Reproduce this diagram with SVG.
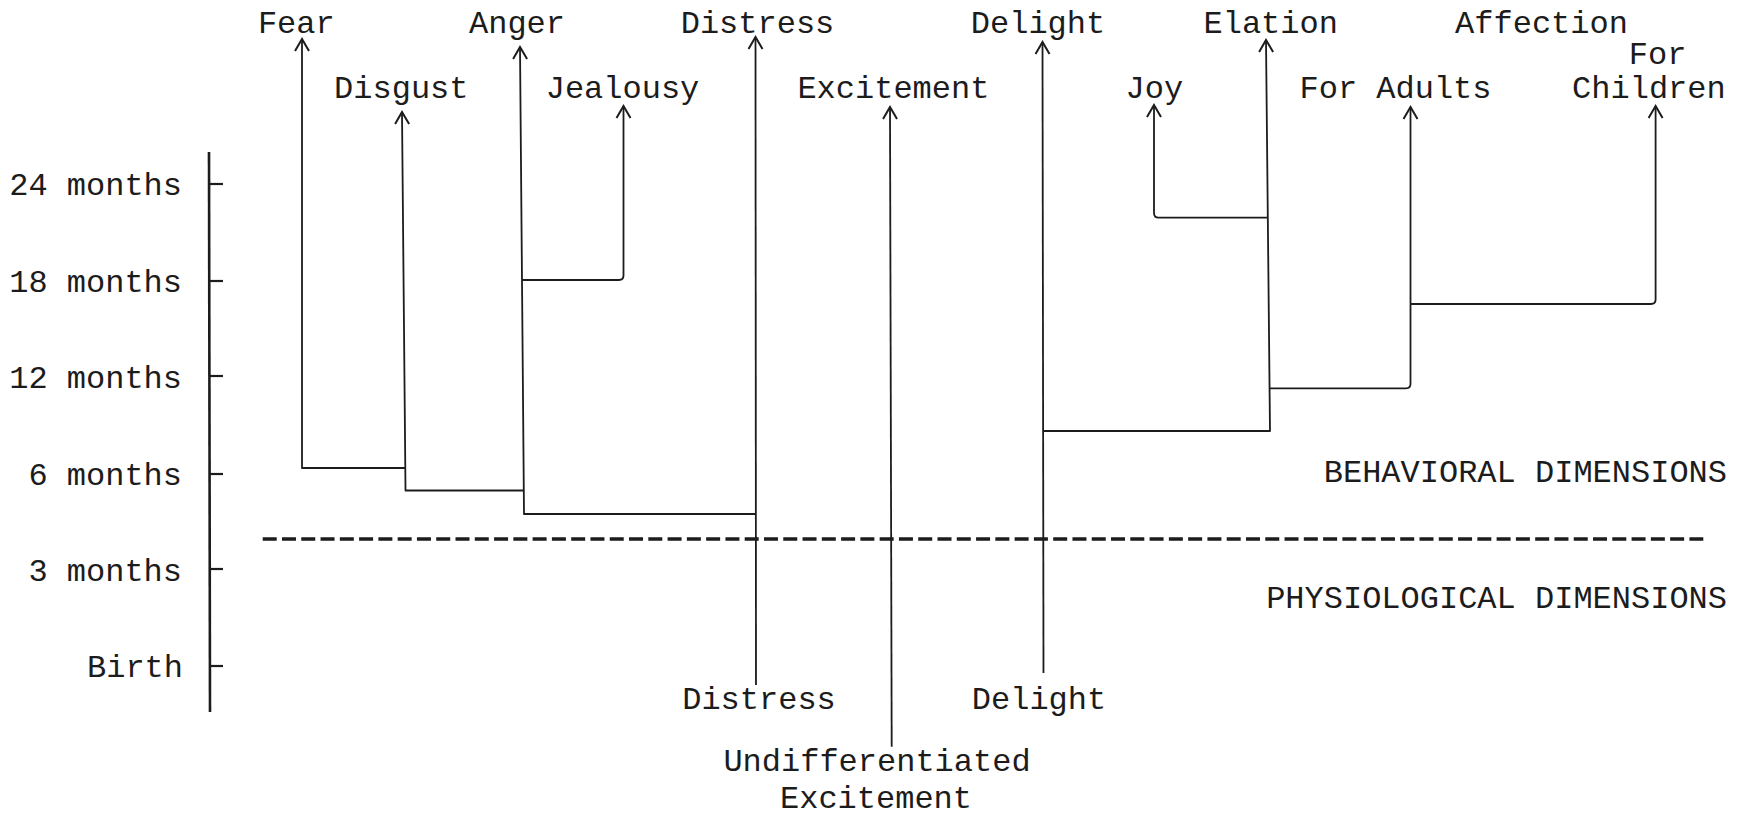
<svg xmlns="http://www.w3.org/2000/svg" width="1743" height="817" viewBox="0 0 1743 817">
  <style>
    text { font-family: "Liberation Mono", "DejaVu Sans Mono", monospace; font-size: 32px; fill: #1c1c1c; }
    .mid { text-anchor: middle; }
    .end { text-anchor: end; }
    .ln { fill: none; stroke: #1c1c1c; stroke-width: 1.8; stroke-linejoin: round; }
    .arr { marker-end: url(#head); }
    .axis { fill: none; stroke: #1c1c1c; stroke-width: 2.6; }
    .tick { stroke: #1c1c1c; stroke-width: 2.2; }
    .divider { stroke: #1c1c1c; stroke-width: 3.6; stroke-dasharray: 14 5.28; }
  </style>
  <defs>
    <marker id="head" markerUnits="userSpaceOnUse" viewBox="-14 -9 16 18" refX="0" refY="0" markerWidth="16" markerHeight="18" orient="auto">
      <path d="M -12,-7 L 0,0 L -12,7" fill="none" stroke="#1c1c1c" stroke-width="2" stroke-linejoin="miter"/>
    </marker>
  </defs>
  <rect width="1743" height="817" fill="#ffffff"/>

  <!-- age scale -->
  <g id="age-axis">
    <line class="axis" x1="209" y1="152" x2="210" y2="712"/>
    <line class="tick" x1="209" y1="184" x2="223" y2="184"/>
    <line class="tick" x1="209" y1="281" x2="223" y2="281"/>
    <line class="tick" x1="209" y1="376" x2="223" y2="376"/>
    <line class="tick" x1="209" y1="474" x2="223" y2="474"/>
    <line class="tick" x1="209" y1="569" x2="223" y2="569"/>
    <line class="tick" x1="209" y1="666" x2="223" y2="666"/>
    <text class="end" x="182" y="195">24 months</text>
    <text class="end" x="182" y="292">18 months</text>
    <text class="end" x="182" y="388">12 months</text>
    <text class="end" x="182" y="485">6 months</text>
    <text class="end" x="182" y="581">3 months</text>
    <text class="end" x="183" y="677">Birth</text>
  </g>

  <!-- boundary between the two kinds of dimensions -->
  <g id="boundary">
    <line class="divider" x1="262.7" y1="539" x2="1703.3" y2="539"/>
    <text class="end" x="1727" y="482">BEHAVIORAL DIMENSIONS</text>
    <text class="end" x="1727" y="608">PHYSIOLOGICAL DIMENSIONS</text>
  </g>

  <!-- branching lines -->
  <g id="connectors">
    <path class="ln arr" d="M405.5,468 H302 V39"/>
    <path class="ln arr" d="M524,490.5 H405.5 L402,112"/>
    <path class="ln arr" d="M756,514 H524 L520,47"/>
    <path class="ln arr" d="M522,280 H619 Q623.5,280 623.5,275.5 V106"/>
    <path class="ln arr" d="M756,685 L755.5,37"/>
    <path class="ln arr" d="M891.7,746.7 L890,107"/>
    <path class="ln arr" d="M1043.5,673 L1042.5,42"/>
    <path class="ln arr" d="M1043.5,431 H1270 L1266,40"/>
    <path class="ln arr" d="M1268,217.7 H1158.5 Q1154,217.7 1154,213 V105"/>
    <path class="ln arr" d="M1269,388.3 H1406 Q1410.5,388.3 1410.5,384 V107"/>
    <path class="ln arr" d="M1410.5,304 H1651 Q1655.6,304 1655.6,299.5 V106"/>
  </g>

  <!-- origins at birth -->
  <g id="distress-origin"><text class="mid" x="759" y="709">Distress</text></g>
  <g id="excitement-origin">
    <text class="mid" x="877" y="771">Undifferentiated</text>
    <text class="mid" x="876" y="808">Excitement</text>
  </g>
  <g id="delight-origin"><text class="mid" x="1039" y="709">Delight</text></g>

  <!-- emotions at 24 months -->
  <g id="fear"><text class="mid" x="296.3" y="33">Fear</text></g>
  <g id="disgust"><text class="mid" x="401.3" y="98">Disgust</text></g>
  <g id="anger"><text class="mid" x="517" y="33">Anger</text></g>
  <g id="jealousy"><text class="mid" x="622.5" y="98">Jealousy</text></g>
  <g id="distress"><text class="mid" x="757.5" y="33">Distress</text></g>
  <g id="excitement"><text class="mid" x="893.4" y="98">Excitement</text></g>
  <g id="delight"><text class="mid" x="1038" y="33">Delight</text></g>
  <g id="joy"><text class="mid" x="1154.3" y="98">Joy</text></g>
  <g id="elation"><text class="mid" x="1270.7" y="33">Elation</text></g>
  <g id="affection"><text class="mid" x="1541.5" y="33">Affection</text></g>
  <g id="affection-adults"><text class="mid" x="1395.5" y="98">For Adults</text></g>
  <g id="affection-children">
    <text class="mid" x="1657.6" y="64">For</text>
    <text class="mid" x="1648.9" y="98">Children</text>
  </g>
</svg>
